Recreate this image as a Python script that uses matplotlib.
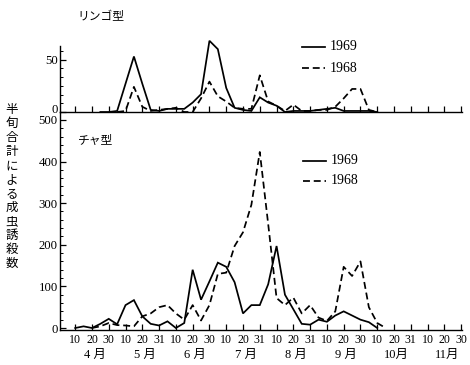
import numpy as np
import matplotlib
matplotlib.use("Agg")
import matplotlib.pyplot as plt
from matplotlib.lines import Line2D
from matplotlib.ticker import MultipleLocator, FixedLocator
import matplotlib.transforms as mtransforms

plt.rcParams['font.family'] = ['Liberation Serif', 'Noto Sans CJK JP', 'DejaVu Sans']
CJK = ['Noto Sans CJK JP', 'DejaVu Sans']
SER = ['Liberation Serif', 'Noto Sans CJK JP']

# x = half-decade (5-day) period index, 0 = 1 April; ticks every 2 periods
series_names = ['1969', '1968']

# リンゴ型 (top panel)
apple_1969_start = 5
apple_1969 = [0, 0, 1, 27, 53, 27, 2, 1, 3, 3, 3, 9, 17, 68, 60, 23, 4, 2, 1,
              14, 9, 6, 0, 1, 1, 1, 2, 3, 4, 1, 1, 1, 1, 0]
apple_1968_start = 7
apple_1968 = [0, 1, 24, 5, 1, 2, 3, 4, 0, 0, 13, 29, 15, 10, 4, 3, 3, 35, 10, 6,
              1, 7, 1, 1, 2, 2, 5, 13, 22, 22, 2, 0]

# チャ型 (bottom panel)
tea_1969_start = 2
tea_1969 = [0, 4, 0, 10, 22, 9, 55, 67, 28, 10, 6, 16, 0, 12, 140, 68, 112, 157,
            147, 110, 35, 55, 55, 105, 197, 80, 45, 10, 8, 20, 15, 30, 40, 30,
            20, 14, 0]
tea_1968_start = 4
tea_1968 = [0, 4, 12, 7, 6, 4, 28, 35, 50, 55, 35, 20, 55, 18, 55, 130, 133, 197,
            230, 296, 423, 250, 72, 55, 73, 35, 55, 25, 17, 40, 147, 125, 160,
            50, 12, 0]

tick_labels = ['10', '20', '30', '10', '20', '31', '10', '20', '30', '10', '20', '31',
               '10', '20', '31', '10', '20', '30', '10', '20', '31', '10', '20', '30']
month_labels = ['4 月', '5 月', '6 月', '7 月', '8 月', '9 月', '10月', '11月']
ylabel_text = '半旬合計による成虫誘殺数'
title_top = 'リンゴ型'
title_bottom = 'チャ型'

W, H = 470, 365
fig = plt.figure(figsize=(W / 100, H / 100), dpi=100)

def fx(px):
    return px / W

def fy(py):
    return (H - py) / H

L, R = 60.5, 462
ax1 = fig.add_axes([fx(L), fy(112), fx(R - L), (112 - 46) / H])
ax2 = fig.add_axes([fx(L), fy(330), fx(R - L), (330 - 112) / H])

xlim = (0.25, 48.1)
lw = 1.25
dash = (0, (4.0, 2.2))
tick_pos = np.arange(2, 2 * len(tick_labels) + 1, 2)

def draw(ax, start, vals, style):
    x = np.arange(start, start + len(vals))
    ax.plot(x, vals, color='black', lw=lw, linestyle=style, solid_joinstyle='miter',
            clip_on=False)

draw(ax1, apple_1969_start, apple_1969, '-')
draw(ax1, apple_1968_start, apple_1968, dash)
draw(ax2, tea_1969_start, tea_1969, '-')
draw(ax2, tea_1968_start, tea_1968, dash)

for ax in (ax1, ax2):
    ax.set_xlim(*xlim)
    ax.spines['right'].set_visible(False)
    ax.spines['top'].set_visible(False)
    for s in ('left', 'bottom'):
        ax.spines[s].set_linewidth(1.0)
    ax.xaxis.set_major_locator(FixedLocator(tick_pos))
    ax.tick_params(axis='both', which='major', direction='in', length=4, width=0.9,
                   labelsize=9, pad=2)
    ax.tick_params(axis='y', which='minor', direction='in', length=2.2, width=0.7)
    ax.set_facecolor('none')

ax1.set_ylim(0, 63)
ax1.set_yticks([0, 50])
ax1.yaxis.set_minor_locator(MultipleLocator(50 / 6))
ax1.tick_params(axis='x', labelbottom=False)

ax2.set_ylim(-4.8, 519)
ax2.set_yticks(np.arange(0, 501, 100))
ax2.yaxis.set_minor_locator(MultipleLocator(20))
ax2.set_xticklabels(tick_labels, fontsize=8.6)
ax2.tick_params(axis='x', pad=3)

for ax in (ax1, ax2):
    for lab in ax.get_yticklabels():
        lab.set_fontsize(9.2)

# nudge the top panel's "0" label up slightly so it clears "500" below
up = mtransforms.ScaledTranslation(0, 2.5 / 72, fig.dpi_scale_trans)
t0 = ax1.yaxis.get_major_ticks()[0]
t0.label1.set_transform(t0.label1.get_transform() + up)

# month labels
trans = mtransforms.blended_transform_factory(ax2.transData, fig.transFigure)
for i, m in enumerate(month_labels):
    ax2.text(6 * i + 4.3, fy(355), m, transform=trans, ha='center', va='center',
             fontsize=9, family=SER, clip_on=False)

# titles
fig.text(fx(101), fy(17), title_top, ha='center', va='center', fontsize=8.5, family=CJK)
fig.text(fx(96), fy(140), title_bottom, ha='center', va='center', fontsize=8.5, family=CJK)

# vertical y label, stacked characters
n = len(ylabel_text)
for i, ch in enumerate(ylabel_text):
    yy = 110 + i * (263 - 110) / (n - 1)
    fig.text(fx(11.5), fy(yy), ch, ha='center', va='center', fontsize=9, family=CJK)

# legends
def legend(x0, ys):
    for name, y, st in zip(series_names, ys, ['-', dash]):
        fig.add_artist(Line2D([fx(x0), fx(x0 + 23)], [fy(y), fy(y)], color='black',
                              lw=lw, linestyle=st, transform=fig.transFigure))
        fig.text(fx(x0 + 28), fy(y), name, ha='left', va='center', fontsize=10,
                 family=SER)

legend(302, [47, 68])
legend(303, [160.5, 181])

fig.savefig('out.png', dpi=100)
